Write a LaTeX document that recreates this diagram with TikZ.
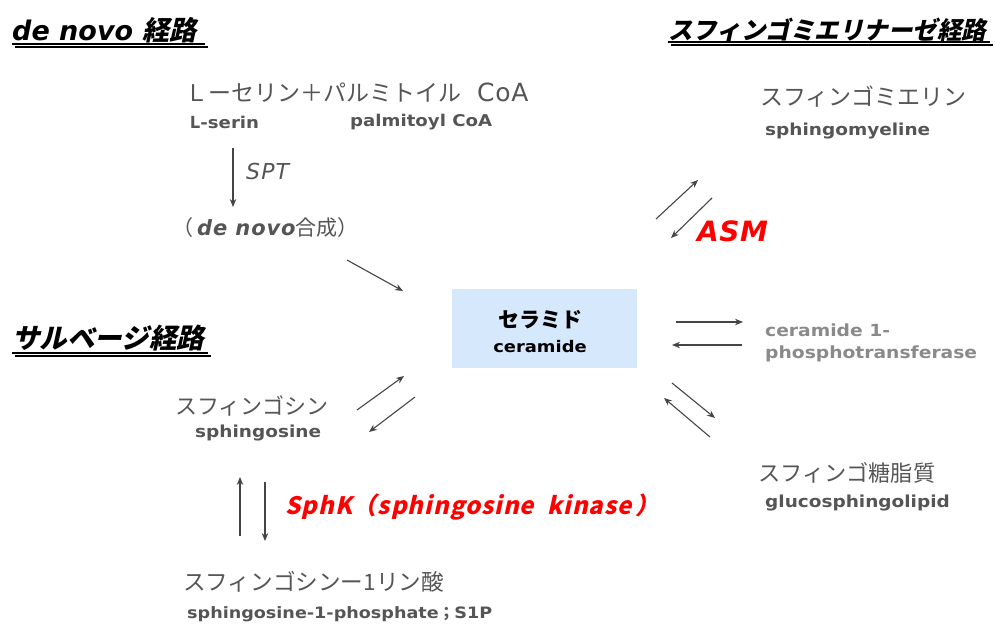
\documentclass[tikz,border=0pt]{standalone}
\usepackage{fontspec}
\setmainfont{DejaVu Sans}
\newfontfamily\eb[FakeStretch=1.12]{DejaVu Sans}
\newfontfamily\jp{Noto Sans CJK JP}
\newfontfamily\jpsl[FakeSlant=0.22]{Noto Sans CJK JP}
\usetikzlibrary{arrows.meta}
\definecolor{jtxt}{HTML}{555555}
\definecolor{etxt}{HTML}{555555}
\definecolor{ltxt}{HTML}{8A8A8A}
\definecolor{arrc}{HTML}{454545}
\definecolor{boxblue}{HTML}{D6E8FB}
\definecolor{shade}{HTML}{C4C4C4}
\tikzset{
  lbl/.style={inner sep=0pt, anchor=west},
  jlbl/.style={lbl, text=jtxt, font=\jp\fontsize{22}{24}\selectfont},
  elbl/.style={lbl, text=etxt, font=\eb\bfseries\fontsize{16.5}{18}\selectfont},
  title/.style={lbl, text=black},
  arr/.style={draw=arrc, line width=1.1pt, -{Stealth[length=8pt,width=6.5pt]}},
  uline/.style={line width=1.6pt, black},
  ushadow/.style={line width=2.6pt, shade},
}
\begin{document}
\begin{tikzpicture}[x=1pt,y=-1pt]
\useasboundingbox (0,0) rectangle (995,627);

% ---- titles (underline with shadow) ----
\draw[ushadow] (15,47) -- (208,47);
\node[title, font=\bfseries\itshape\fontsize{27}{29}\selectfont] (t1) at (12,30) {de novo \jpsl\bfseries 経路};
\draw[uline] (12,44) -- (205,44);

\draw[ushadow] (671,45) -- (993,45);
\node[title, font=\jpsl\bfseries\fontsize{24.5}{26}\selectfont] (t2) at (668,30) {スフィンゴミエリナーゼ経路};
\draw[uline] (668,42) -- (990,42);

\draw[ushadow] (15,356) -- (211,356);
\node[title, font=\jpsl\bfseries\fontsize{27.5}{29}\selectfont] (t3) at (12,338) {サルベージ経路};
\draw[uline] (12,353) -- (208,353);

% ---- de novo branch ----
\node[jlbl, font=\jp\fontsize{23}{25}\selectfont] (ser) at (185,93) {Ｌーセリン＋パルミトイル\hspace{16pt}{\fontspec{DejaVu Sans}\addfontfeature{LetterSpace=3}\fontsize{25}{27}\selectfont CoA}};
\node[elbl, font=\eb\bfseries\fontsize{16.2}{18}\selectfont] (sere) at (187,122) {{\jp\bfseries Ｌ}\hspace{-3pt}-serin};
\node[elbl, font=\eb\bfseries\fontsize{16.2}{18}\selectfont] (palm) at (350,122) {palmitoyl CoA};
\coordinate (spt1) at (233,148);
\coordinate (spt2) at (233,207);
\draw[arr] (spt1) -- (spt2);
\node[lbl, text=jtxt, font=\itshape\addfontfeature{LetterSpace=5}\fontsize{22}{24}\selectfont] (spt) at (246,171) {SPT};
\node[jlbl, font=\jp\fontsize{21}{23}\selectfont] (dns) at (172,228) {（\hspace{4pt}{\fontspec{DejaVu Sans}\bfseries\itshape\addfontfeature{LetterSpace=4} de novo}合成）};
\coordinate (dn1) at (347,260);
\coordinate (dn2) at (403,291);
\draw[arr] (dn1) -- (dn2);

% ---- ceramide box ----
\node[fill=boxblue, minimum width=185pt, minimum height=79pt, inner sep=0pt] (cer) at (544.5,328.5) {};
\node[inner sep=0pt, font=\jp\bfseries\fontsize{21}{23}\selectfont] (cerj) at (540,320) {セラミド};
\node[inner sep=0pt, font=\eb\bfseries\fontsize{16}{18}\selectfont] (cere) at (540,347) {ceramide};

% ---- sphingomyelinase branch ----
\node[jlbl, font=\jp\fontsize{23}{25}\selectfont] (smj) at (760,97) {スフィンゴミエリン};
\node[elbl] (sme) at (765,131) {sphingomyeline};
\coordinate (as1) at (656,219);
\coordinate (as2) at (698,180);
\coordinate (as3) at (712,198);
\coordinate (as4) at (671,238);
\draw[arr] (as1) -- (as2);
\draw[arr] (as3) -- (as4);
\node[lbl, text=red, font=\bfseries\itshape\addfontfeature{LetterSpace=2}\fontsize{28}{30}\selectfont] (asm) at (697,231) {ASM};

% ---- ceramide 1-phosphotransferase ----
\coordinate (cp1) at (676,322);
\coordinate (cp2) at (743,322);
\coordinate (cp3) at (742,345);
\coordinate (cp4) at (672,345);
\draw[arr] (cp1) -- (cp2);
\draw[arr] (cp3) -- (cp4);
\node[lbl, anchor=north west, align=left, text=ltxt, font=\eb\bfseries\fontsize{16.7}{22}\selectfont] (cpt) at (765,324) {ceramide 1-\\phosphotransferase};

% ---- glucosphingolipid ----
\coordinate (gl1) at (672,383);
\coordinate (gl2) at (715,418);
\coordinate (gl3) at (710,437);
\coordinate (gl4) at (664,398);
\draw[arr] (gl1) -- (gl2);
\draw[arr] (gl3) -- (gl4);
\node[jlbl, font=\jp\fontsize{22.2}{24}\selectfont] (glj) at (758,473) {スフィンゴ糖脂質};
\node[elbl] (gle) at (765,503) {glucosphingolipid};

% ---- salvage branch ----
\node[jlbl] (sgj) at (175,406) {スフィンゴシン};
\node[elbl] (sge) at (195,433) {sphingosine};
\coordinate (sg1) at (357,410);
\coordinate (sg2) at (404,376);
\coordinate (sg3) at (415,397);
\coordinate (sg4) at (369,432);
\draw[arr] (sg1) -- (sg2);
\draw[arr] (sg3) -- (sg4);

\coordinate (sk1) at (240,536);
\coordinate (sk2) at (240,477);
\coordinate (sk3) at (265,482);
\coordinate (sk4) at (265,541);
\draw[arr] (sk1) -- (sk2);
\draw[arr] (sk3) -- (sk4);
\node[lbl, text=red, font=\jpsl\bfseries\addfontfeature{LetterSpace=4}\fontsize{24}{26}\selectfont] (sphk) at (285,507) {SphK（sphingosine\ \ kinase\,）};

\node[jlbl, font=\jp\fontsize{22.6}{24}\selectfont] (s1pj) at (183,582) {スフィンゴシンー1リン酸};
\node[elbl, font=\eb\bfseries\fontsize{15.7}{18}\selectfont] (s1pe) at (187,614) {sphingosine-1-phosphate{\jp\bfseries ；}S1P};
\end{tikzpicture}
\end{document}
